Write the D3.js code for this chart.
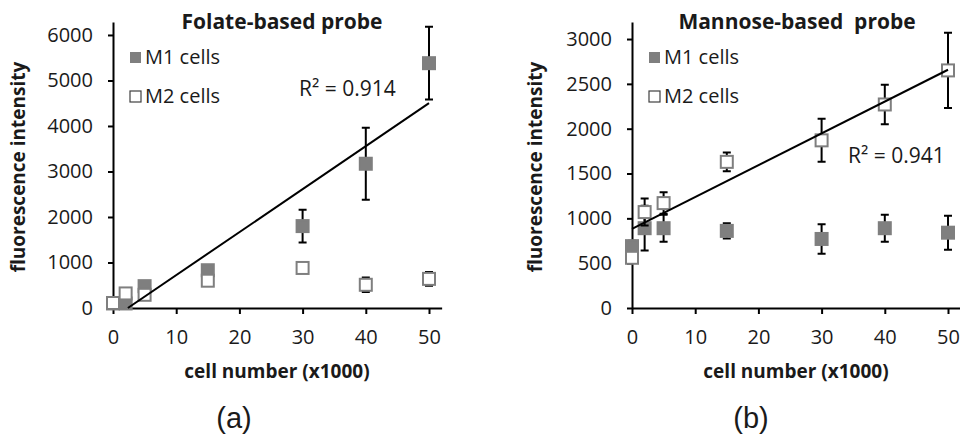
<!DOCTYPE html>
<html>
<head>
<meta charset="utf-8">
<script src="https://cdn.jsdelivr.net/npm/d3@7"></script>
<style>
  body { margin: 0; background: #fff; }
  svg { display: block; }
</style>
</head>
<body>
<div id="chart"></div>
<script>
(function () {

    var width = 960, height = 437

    // shared x values (cell number, x1000)
    var cellNumbers = [0, 2, 5, 15, 30, 40, 50]
    var xTicks = [0, 10, 20, 30, 40, 50]

    // (a) folate-based probe
    var folateM1 = [100, 100, 480, 830, 1800, 3170, 5380]
    var folateM1Err = [30, 30, 40, 50, 360, 790, 800]
    var folateM2 = [110, 320, 290, 600, 880, 510, 640]
    var folateM2Err = [20, 30, 30, 40, 40, 160, 150]
    var folateTicks = [0, 1000, 2000, 3000, 4000, 5000, 6000]

    // (b) mannose-based probe
    var mannoseM1 = [690, 890, 890, 860, 770, 890, 840]
    var mannoseM1Err = [60, 250, 150, 85, 165, 150, 190]
    var mannoseM2 = [560, 1070, 1170, 1630, 1870, 2270, 2650]
    var mannoseM2Err = [40, 150, 120, 105, 240, 220, 420]
    var mannoseTicks = [0, 500, 1000, 1500, 2000, 2500, 3000]

    var grey = '#7f7f7f', ink = '#1a1a1a'

    var svg = d3.select('#chart')
        .append('svg')
        .attr('width', width)
        .attr('height', height)

    function zip(xs, ys, es) {
        return xs.map(function (x, i) { return { x: x, y: ys[i], e: es[i] } })
    }

    function linearFit(xs, ys) {
        var mx = d3.mean(xs), my = d3.mean(ys)
        var sxy = d3.sum(xs, function (x, i) { return (x - mx) * (ys[i] - my) })
        var sxx = d3.sum(xs, function (x) { return (x - mx) * (x - mx) })
        var slope = sxy / sxx
        return { slope: slope, intercept: my - slope * mx }
    }

    function label(g, size, bold) {
        return g.append('text')
            .attr('fill', ink)
            .style('font-family', 'Open Sans')
            .style('font-size', size + 'px')
            .style('font-weight', bold ? 'bold' : 'normal')
    }

    function panel(o) {
        var g = svg.append('g')

        var x = d3.scaleLinear().domain([0, 52]).range([o.left, o.left + 52 * 6.32])
        var y = d3.scaleLinear().domain([0, o.yMax]).range([308, 22])

        // axes
        var xAxis = g.append('g')
            .attr('transform', 'translate(0,' + y(0) + ')')
            .call(d3.axisBottom(x).tickValues(xTicks).tickSize(6).tickSizeOuter(0).tickPadding(16))
        var yAxis = g.append('g')
            .attr('transform', 'translate(' + x(0) + ',0)')
            .call(d3.axisLeft(y).tickValues(o.ticks).tickFormat(d3.format('d'))
                .tickSize(5).tickSizeOuter(0).tickPadding(15))

        ;[xAxis, yAxis].forEach(function (a) {
            a.select('.domain').attr('stroke', '#000').attr('stroke-width', 2)
            a.selectAll('.tick line').attr('stroke', '#000').attr('stroke-width', 2)
            a.selectAll('.tick text')
                .attr('fill', ink)
                .style('font-family', 'Open Sans')
                .style('font-size', '20px')
        })

        var fit = linearFit(cellNumbers, o.fitSeries)
        var x0 = Math.max(0, -fit.intercept / fit.slope)

        // series: M1 filled, M2 open
        var series = [
            { data: zip(cellNumbers, o.m1, o.m1Err), fill: grey },
            { data: zip(cellNumbers, o.m2, o.m2Err), fill: '#fff' }
        ]
        var s = 12, cap = 4
        series.forEach(function (ser) {
            var pts = g.append('g').selectAll('g')
                .data(ser.data)
                .enter().append('g')
            pts.append('path')
                .attr('d', function (d) {
                    var cx = x(d.x), t = y(d.y + d.e), b = y(d.y - d.e)
                    return 'M' + cx + ',' + t + 'V' + b +
                        'M' + (cx - cap) + ',' + t + 'H' + (cx + cap) +
                        'M' + (cx - cap) + ',' + b + 'H' + (cx + cap)
                })
                .attr('stroke', '#000')
                .attr('stroke-width', 2)
                .attr('fill', 'none')
            pts.append('rect')
                .attr('x', function (d) { return x(d.x) - s / 2 })
                .attr('y', function (d) { return y(d.y) - s / 2 })
                .attr('width', s)
                .attr('height', s)
                .attr('fill', ser.fill)
                .attr('stroke', grey)
                .attr('stroke-width', 2)
        })

        // trendline on top of the markers
        g.append('line')
            .attr('x1', x(x0)).attr('y1', y(fit.slope * x0 + fit.intercept))
            .attr('x2', x(50)).attr('y2', y(fit.slope * 50 + fit.intercept))
            .attr('stroke', '#000')
            .attr('stroke-width', 2)

        // legend
        var lx = o.left + 22
        g.append('rect').attr('x', lx - 5).attr('y', 52).attr('width', 11).attr('height', 11)
            .attr('fill', grey)
        g.append('rect').attr('x', lx - 5).attr('y', 91).attr('width', 11).attr('height', 11)
            .attr('fill', '#fff').attr('stroke', '#404040').attr('stroke-width', 1.2)
        label(g, 20).attr('x', lx + 10).attr('y', 64).text('M1 cells')
        label(g, 20).attr('x', lx + 10).attr('y', 103).text('M2 cells')

        // R squared
        label(g, 21).attr('x', o.rX).attr('y', o.rY).text(o.rText)

        // titles
        label(g, 21, true)
            .attr('x', o.titleX).attr('y', 29)
            .attr('text-anchor', 'middle')
            .style('white-space', 'pre')
            .text(o.title)

        label(g, 19, true)
            .attr('x', o.left + 164).attr('y', 378)
            .attr('text-anchor', 'middle')
            .text('cell number (x1000)')

        label(g, 19, true)
            .attr('transform', 'translate(' + o.yTitleX + ',167) rotate(-90)')
            .attr('text-anchor', 'middle')
            .text('fluorescence intensity')

        g.append('text')
            .attr('x', o.tagX).attr('y', 428)
            .attr('text-anchor', 'middle')
            .attr('fill', ink)
            .style('font-family', 'Liberation Sans')
            .style('font-size', '29px')
            .text(o.tag)
    }

    panel({
        left: 113, yMax: 6285, ticks: folateTicks,
        m1: folateM1, m1Err: folateM1Err, m2: folateM2, m2Err: folateM2Err,
        fitSeries: folateM1,
        rText: 'R² = 0.914', rX: 299, rY: 96,
        title: 'Folate-based probe', titleX: 282,
        yTitleX: 25, tag: '(a)', tagX: 234
    })

    panel({
        left: 632, yMax: 3190, ticks: mannoseTicks,
        m1: mannoseM1, m1Err: mannoseM1Err, m2: mannoseM2, m2Err: mannoseM2Err,
        fitSeries: mannoseM2,
        rText: 'R² = 0.941', rX: 848, rY: 163,
        title: 'Mannose-based  probe', titleX: 797,
        yTitleX: 542, tag: '(b)', tagX: 751
    })

})()
</script>
</body>
</html>
